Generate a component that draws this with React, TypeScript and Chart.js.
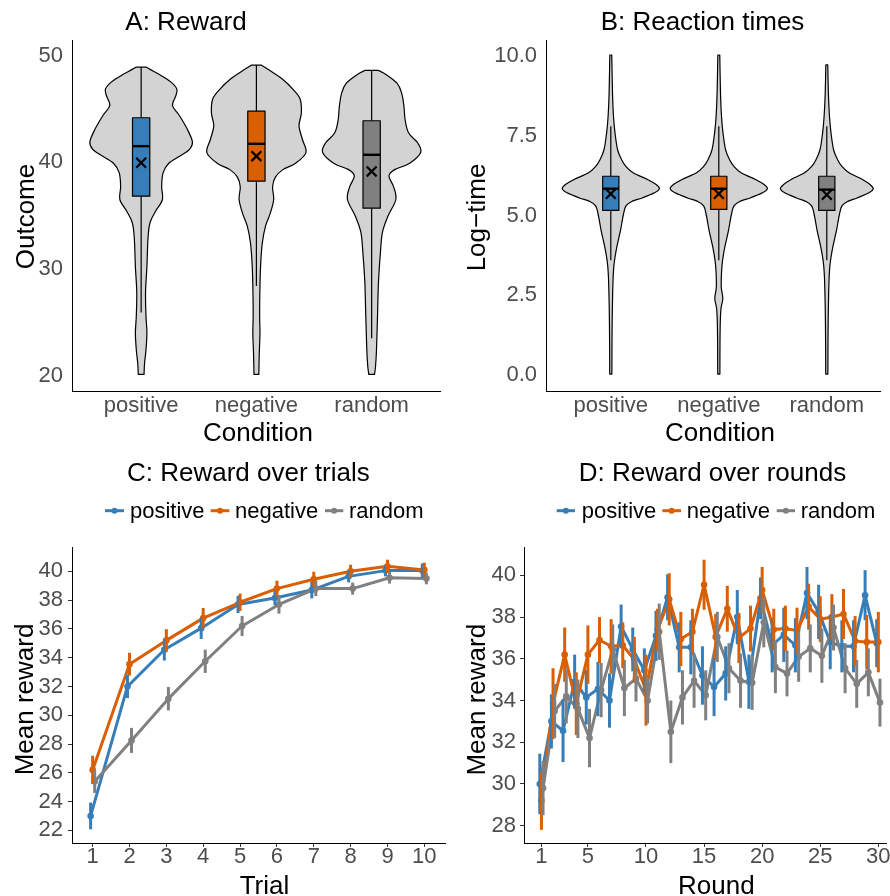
import React, { useEffect, useRef } from 'react';
import { Chart, registerables } from 'chart.js';
Chart.register(...registerables);

const FONT = '"Liberation Sans", Arial, Helvetica, sans-serif';
const BLUE = '#377EB8';
const ORANGE = '#D95F02';
const GREY = '#808080';
const VIOLIN_FILL = '#D3D3D3';
const TICK_COLOR = '#4D4D4D';

// ---------- Panel A: Reward (violins: [value, half-width]) ----------
const conditions = ['positive', 'negative', 'random'];
const rewardTicks = [20, 30, 40, 50];
const rewardViolinPositive: [number, number][] = [
  [20.1, 0.025], [21.2, 0.03], [22.4, 0.042], [24.0, 0.05], [25.6, 0.042], [27.8, 0.038],
  [30.2, 0.05], [32.8, 0.059], [34.3, 0.076], [35.4, 0.125], [36.5, 0.185], [37.7, 0.178],
  [39.0, 0.19], [39.9, 0.24], [40.6, 0.34], [41.2, 0.42], [41.9, 0.445], [43.1, 0.40],
  [44.4, 0.33], [45.3, 0.272], [46.2, 0.30], [46.85, 0.31], [47.5, 0.26], [48.1, 0.175],
  [48.5, 0.11], [48.9, 0.045],
];
const rewardViolinNegative: [number, number][] = [
  [20.1, 0.021], [22.1, 0.025], [24.0, 0.031], [25.6, 0.028], [27.8, 0.03], [30.2, 0.036],
  [32.4, 0.051], [34.0, 0.079], [35.2, 0.12], [36.5, 0.15], [37.7, 0.14], [38.6, 0.165],
  [39.3, 0.23], [39.9, 0.34], [40.9, 0.43], [42.1, 0.40], [43.4, 0.37], [44.6, 0.39],
  [45.9, 0.38], [46.8, 0.32], [47.75, 0.23], [48.7, 0.10], [49.1, 0.042],
];
const rewardViolinRandom: [number, number][] = [
  [20.1, 0.025], [20.9, 0.034], [22.4, 0.042], [25.6, 0.051], [28.7, 0.059], [31.5, 0.076],
  [33.4, 0.093], [34.9, 0.14], [36.5, 0.21], [37.7, 0.19], [38.7, 0.15], [39.3, 0.2],
  [39.9, 0.33], [40.9, 0.425], [41.8, 0.40], [42.75, 0.32], [44.0, 0.29], [45.25, 0.28],
  [46.5, 0.26], [47.4, 0.22], [48.2, 0.127], [48.6, 0.059],
];
const rewardQ1 = [36.81, 38.22, 35.69];
const rewardMedian = [41.5, 41.72, 40.69];
const rewardQ3 = [44.16, 44.78, 43.88];
const rewardWhiskerLow = [25.9, 28.4, 23.5];
const rewardWhiskerHigh = [48.9, 49.1, 48.6];
const rewardMean = [39.94, 40.56, 39.13];

// ---------- Panel B: Reaction times ----------
const rtTicks = [0, 2.5, 5, 7.5, 10];
const rtViolinPositive: [number, number][] = [
  [0.03, 0.01], [1.0, 0.011], [2.0, 0.014], [3.0, 0.021], [3.5, 0.031], [4.0, 0.055],
  [4.5, 0.088], [5.0, 0.115], [5.3, 0.14], [5.45, 0.2], [5.55, 0.29], [5.71, 0.405],
  [5.84, 0.45], [5.97, 0.42], [6.13, 0.34], [6.33, 0.21], [6.54, 0.14], [6.75, 0.1],
  [7.06, 0.063], [7.58, 0.039], [8.1, 0.025], [8.8, 0.016], [10.03, 0.009],
];
const rtViolinNegative: [number, number][] = [
  [0.03, 0.01], [1.0, 0.011], [1.7, 0.014], [2.1, 0.021], [2.4, 0.037], [2.75, 0.023],
  [3.2, 0.025], [3.6, 0.035], [4.0, 0.055], [4.5, 0.088], [5.0, 0.115], [5.3, 0.14],
  [5.45, 0.2], [5.55, 0.29], [5.71, 0.405], [5.84, 0.45], [5.97, 0.42], [6.13, 0.34],
  [6.33, 0.21], [6.54, 0.14], [6.75, 0.1], [7.06, 0.063], [7.58, 0.039], [8.1, 0.025],
  [8.8, 0.016], [10.03, 0.009],
];
const rtViolinRandom: [number, number][] = [
  [0.03, 0.01], [1.0, 0.011], [2.0, 0.014], [3.0, 0.021], [3.5, 0.031], [4.0, 0.055],
  [4.5, 0.088], [5.0, 0.115], [5.3, 0.14], [5.45, 0.2], [5.55, 0.28], [5.71, 0.39],
  [5.84, 0.43], [5.97, 0.40], [6.13, 0.33], [6.33, 0.21], [6.54, 0.14], [6.75, 0.1],
  [7.06, 0.063], [7.58, 0.039], [8.1, 0.025], [8.8, 0.015], [9.72, 0.009],
];
const rtQ1 = [5.16, 5.19, 5.16];
const rtMedian = [5.84, 5.84, 5.81];
const rtQ3 = [6.23, 6.23, 6.23];
const rtWhiskerLow = [3.6, 3.6, 3.6];
const rtWhiskerHigh = [7.8, 7.8, 7.8];
const rtMean = [5.68, 5.68, 5.65];

// ---------- Panel C: Reward over trials ----------
const trials = [1, 2, 3, 4, 5, 6, 7, 8, 9, 10];
const trialYTicks = [22, 24, 26, 28, 30, 32, 34, 36, 38, 40];
const trialPositive = [23.0, 32.0, 34.55, 36.05, 37.7, 38.15, 38.7, 39.65, 40.05, 40.05];
const trialNegative = [26.2, 33.55, 35.2, 36.75, 37.85, 38.8, 39.45, 40.0, 40.35, 40.1];
const trialRandom = [25.4, 28.25, 31.15, 33.75, 36.2, 37.7, 38.8, 38.8, 39.55, 39.5];
const trialPositiveSE = [0.93, 0.81, 0.75, 0.75, 0.6, 0.5, 0.58, 0.42, 0.4, 0.5];
const trialNegativeSE = [0.98, 0.79, 0.78, 0.7, 0.6, 0.55, 0.52, 0.46, 0.46, 0.5];
const trialRandomSE = [0.8, 0.87, 0.81, 0.81, 0.7, 0.64, 0.52, 0.42, 0.4, 0.4];

// ---------- Panel D: Reward over rounds ----------
const rounds = Array.from({ length: 30 }, (_, i) => i + 1);
const roundXTicks = [1, 5, 10, 15, 20, 25, 30];
const roundYTicks = [28, 30, 32, 34, 36, 38, 40];
const roundPositive = [30.0, 33.0, 32.55, 34.9, 34.15, 34.55, 34.0, 37.55, 36.45, 35.45,
  37.1, 38.95, 36.55, 36.55, 35.2, 34.65, 35.3, 38.0, 34.9, 38.9,
  36.65, 37.15, 36.65, 39.15, 38.25, 36.8, 36.6, 36.6, 39.05, 36.75];
const roundNegative = [29.2, 33.85, 36.2, 33.85, 36.2, 36.9, 36.6, 36.65, 35.95, 34.5,
  37.4, 38.85, 36.95, 37.3, 39.55, 37.05, 38.4, 37.0, 37.45, 39.3,
  37.4, 37.45, 37.35, 38.5, 37.9, 38.0, 38.15, 36.85, 36.8, 36.8];
const roundRandom = [29.8, 33.5, 34.2, 33.6, 32.2, 34.5, 36.45, 34.6, 35.05, 34.0,
  37.3, 32.5, 34.15, 34.95, 34.25, 37.05, 35.55, 34.95, 34.85, 37.75,
  35.6, 35.3, 36.1, 36.5, 36.15, 37.5, 35.55, 34.8, 35.35, 33.9];
const roundPositiveSE = [1.45, 1.3, 1.5, 1.3, 1.3, 1.3, 1.3, 1.05, 1.05, 1.05,
  1.2, 1.1, 1.2, 1.3, 1.4, 1.4, 1.3, 1.3, 1.3, 1.0,
  1.3, 1.3, 1.3, 1.25, 1.3, 1.3, 1.25, 1.25, 1.2, 1.15];
const roundNegativeSE = [1.4, 1.7, 1.3, 1.5, 1.4, 1.1, 1.3, 1.1, 1.1, 1.7,
  1.0, 1.25, 1.3, 1.1, 1.2, 1.1, 1.1, 1.2, 1.1, 1.1,
  1.0, 1.1, 1.1, 1.1, 1.1, 1.1, 1.2, 1.2, 1.3, 1.45];
const roundRandomSE = [1.3, 1.3, 1.3, 1.4, 1.4, 1.3, 1.2, 1.35, 1.1, 1.1,
  1.35, 1.5, 1.3, 1.3, 1.2, 1.2, 1.2, 1.3, 1.3, 1.2,
  1.25, 1.1, 1.2, 1.15, 1.3, 1.1, 1.2, 1.15, 1.15, 1.15];

const conditionColors = [BLUE, ORANGE, GREY];

type TextItem = { text: string; x: number; y: number; size: number; rot?: boolean; align?: CanvasTextAlign; color?: string };
type LegendItem = { x1: number; x2: number; tx: number; color: string; text: string };

function decorPlugin(texts: TextItem[], legend: LegendItem[] = [], legendLineY = 0, legendTextY = 0) {
  return {
    id: 'decor',
    afterDraw(chart: any) {
      const ctx = chart.ctx as CanvasRenderingContext2D;
      for (const t of texts) {
        ctx.save();
        ctx.font = `${t.size}px ${FONT}`;
        ctx.fillStyle = t.color || '#000';
        ctx.textAlign = t.align || 'center';
        ctx.textBaseline = 'alphabetic';
        ctx.translate(t.x, t.y);
        if (t.rot) ctx.rotate(-Math.PI / 2);
        ctx.fillText(t.text, 0, 0);
        ctx.restore();
      }
      for (const l of legend) {
        ctx.save();
        ctx.strokeStyle = l.color;
        ctx.lineWidth = 3;
        ctx.beginPath();
        ctx.moveTo(l.x1, legendLineY);
        ctx.lineTo(l.x2, legendLineY);
        ctx.stroke();
        ctx.fillStyle = l.color;
        ctx.beginPath();
        ctx.arc((l.x1 + l.x2) / 2, legendLineY, 3, 0, Math.PI * 2);
        ctx.fill();
        ctx.font = `22px ${FONT}`;
        ctx.fillStyle = '#000';
        ctx.textAlign = 'left';
        ctx.textBaseline = 'alphabetic';
        ctx.fillText(l.text, l.tx, legendTextY);
        ctx.restore();
      }
    },
  };
}

function splineThrough(ctx: CanvasRenderingContext2D, pts: number[][], move: boolean) {
  if (move) ctx.moveTo(pts[0][0], pts[0][1]);
  else ctx.lineTo(pts[0][0], pts[0][1]);
  for (let i = 0; i < pts.length - 1; i++) {
    const p0 = pts[i - 1] || pts[i];
    const p1 = pts[i];
    const p2 = pts[i + 1];
    const p3 = pts[i + 2] || p2;
    const t = 1 / 6;
    ctx.bezierCurveTo(
      p1[0] + (p2[0] - p0[0]) * t, p1[1] + (p2[1] - p0[1]) * t,
      p2[0] - (p3[0] - p1[0]) * t, p2[1] - (p3[1] - p1[1]) * t,
      p2[0], p2[1]
    );
  }
}

type ViolinSpec = {
  violins: [number, number][][];
  q1: number[]; med: number[]; q3: number[]; lo: number[]; hi: number[];
};

function violinPlugin(spec: ViolinSpec) {
  return {
    id: 'violins',
    beforeDatasetsDraw(chart: any) {
      const ctx = chart.ctx as CanvasRenderingContext2D;
      const xs = chart.scales.x;
      const ys = chart.scales.y;
      const boxHalf = 0.075;
      spec.violins.forEach((v, i) => {
        const cx = i + 1;
        const right = v.map(([val, w]) => [xs.getPixelForValue(cx + w), ys.getPixelForValue(val)]);
        const left = v.map(([val, w]) => [xs.getPixelForValue(cx - w), ys.getPixelForValue(val)]).reverse();
        ctx.save();
        ctx.beginPath();
        splineThrough(ctx, right, true);
        splineThrough(ctx, left, false);
        ctx.closePath();
        ctx.fillStyle = VIOLIN_FILL;
        ctx.fill();
        ctx.strokeStyle = '#000';
        ctx.lineWidth = 1.2;
        ctx.lineJoin = 'round';
        ctx.stroke();
        // whiskers
        const px = xs.getPixelForValue(cx);
        ctx.beginPath();
        ctx.moveTo(px, ys.getPixelForValue(spec.q3[i]));
        ctx.lineTo(px, ys.getPixelForValue(spec.hi[i]));
        ctx.moveTo(px, ys.getPixelForValue(spec.q1[i]));
        ctx.lineTo(px, ys.getPixelForValue(spec.lo[i]));
        ctx.lineWidth = 1.2;
        ctx.stroke();
        // box
        const bx1 = xs.getPixelForValue(cx - boxHalf);
        const bx2 = xs.getPixelForValue(cx + boxHalf);
        const by1 = ys.getPixelForValue(spec.q3[i]);
        const by2 = ys.getPixelForValue(spec.q1[i]);
        ctx.fillStyle = conditionColors[i];
        ctx.fillRect(bx1, by1, bx2 - bx1, by2 - by1);
        ctx.strokeRect(bx1, by1, bx2 - bx1, by2 - by1);
        // median
        const my = ys.getPixelForValue(spec.med[i]);
        ctx.beginPath();
        ctx.moveTo(bx1, my);
        ctx.lineTo(bx2, my);
        ctx.lineWidth = 2.4;
        ctx.stroke();
        ctx.restore();
      });
    },
  };
}

function errorBarPlugin(seList: number[][]) {
  return {
    id: 'errorbars',
    afterDatasetsDraw(chart: any) {
      const ctx = chart.ctx as CanvasRenderingContext2D;
      const ys = chart.scales.y;
      const xs = chart.scales.x;
      chart.data.datasets.forEach((ds: any, k: number) => {
        ctx.save();
        ctx.strokeStyle = ds.borderColor;
        ctx.lineWidth = 3;
        ctx.lineCap = 'butt';
        ds.data.forEach((p: any, i: number) => {
          const se = seList[k][i];
          const px = xs.getPixelForValue(p.x);
          ctx.beginPath();
          ctx.moveTo(px, ys.getPixelForValue(p.y - se));
          ctx.lineTo(px, ys.getPixelForValue(p.y + se));
          ctx.stroke();
        });
        ctx.restore();
      });
    },
  };
}

type Area = { left: number; top: number; right: number; bottom: number };

function baseScales(W: number, H: number, area: Area, o: any) {
  const tickFont = { family: FONT, size: 22, lineHeight: 1 };
  const gridOpts = o.tickMarks
    ? { display: true, drawOnChartArea: false, drawTicks: true, tickLength: 4, color: '#333333', lineWidth: 1 }
    : { display: false, drawTicks: false, tickLength: 0 };
  return {
    x: {
      type: 'linear',
      position: 'bottom',
      min: o.xMin,
      max: o.xMax,
      afterFit: (s: any) => { s.height = H - area.bottom; },
      afterBuildTicks: (s: any) => { s.ticks = o.xTicks.map((v: number) => ({ value: v })); },
      grid: gridOpts,
      border: { display: true, color: '#000', width: 1 },
      ticks: {
        autoSkip: false, maxRotation: 0, minRotation: 0, padding: o.xPad,
        color: TICK_COLOR, font: tickFont, callback: o.xFmt,
      },
    },
    y: {
      type: 'linear',
      position: 'left',
      min: o.yMin,
      max: o.yMax,
      afterFit: (s: any) => { s.width = area.left; },
      afterBuildTicks: (s: any) => { s.ticks = o.yTicks.map((v: number) => ({ value: v })); },
      grid: gridOpts,
      border: { display: true, color: '#000', width: 1 },
      ticks: {
        autoSkip: false, padding: o.yPad,
        color: TICK_COLOR, font: tickFont, callback: o.yFmt,
      },
    },
  };
}

function violinConfig(W: number, H: number, area: Area, o: any, spec: ViolinSpec, means: number[], texts: TextItem[]): any {
  return {
    type: 'scatter',
    data: {
      datasets: [{
        data: means.map((m, i) => ({ x: i + 1, y: m })),
        pointStyle: 'crossRot',
        pointRadius: 7,
        borderWidth: 2.2,
        borderColor: '#000',
        backgroundColor: '#000',
        showLine: false,
      }],
    },
    options: {
      responsive: false,
      animation: false,
      devicePixelRatio: 1,
      events: [],
      layout: { padding: { left: 0, top: area.top, right: W - area.right, bottom: 0 } },
      plugins: { legend: { display: false }, tooltip: { enabled: false }, title: { display: false } },
      scales: baseScales(W, H, area, o),
    },
    plugins: [violinPlugin(spec), decorPlugin(texts)],
  };
}

function lineConfig(W: number, H: number, area: Area, o: any, xs: number[], series: { label: string; color: string; values: number[]; se: number[] }[], dodge: number[], texts: TextItem[], legend: LegendItem[]): any {
  return {
    type: 'line',
    data: {
      datasets: series.map((s, k) => ({
        label: s.label,
        data: xs.map((x, i) => ({ x: x + dodge[k], y: s.values[i] })),
        borderColor: s.color,
        backgroundColor: s.color,
        borderWidth: 3,
        borderJoinStyle: 'round',
        pointRadius: 3.3,
        pointBorderWidth: 0,
        pointBackgroundColor: s.color,
        tension: 0,
        fill: false,
        order: 3 - k,
      })),
    },
    options: {
      responsive: false,
      animation: false,
      devicePixelRatio: 1,
      events: [],
      layout: { padding: { left: 0, top: area.top, right: W - area.right, bottom: 0 } },
      plugins: { legend: { display: false }, tooltip: { enabled: false }, title: { display: false } },
      scales: baseScales(W, H, area, o),
    },
    plugins: [errorBarPlugin(series.map((s) => s.se)), decorPlugin(texts, legend, 62.7, 70.3)],
  };
}

export default function App() {
  const refA = useRef<HTMLCanvasElement>(null);
  const refB = useRef<HTMLCanvasElement>(null);
  const refC = useRef<HTMLCanvasElement>(null);
  const refD = useRef<HTMLCanvasElement>(null);

  useEffect(() => {
    const charts: Chart[] = [];
    const catFmt = (v: any) => conditions[Math.round(Number(v)) - 1] ?? '';

    charts.push(new Chart(refA.current!, violinConfig(450, 448,
      { left: 72, top: 40, right: 450, bottom: 391 },
      { xMin: 0.4, xMax: 3.6, xTicks: [1, 2, 3], xFmt: catFmt, xPad: 4,
        yMin: 18.55, yMax: 51.45, yTicks: rewardTicks, yFmt: (v: any) => String(v), yPad: 9, tickMarks: false },
      { violins: [rewardViolinPositive, rewardViolinNegative, rewardViolinRandom],
        q1: rewardQ1, med: rewardMedian, q3: rewardQ3, lo: rewardWhiskerLow, hi: rewardWhiskerHigh },
      rewardMean,
      [
        { text: 'A: Reward', x: 186, y: 30, size: 26 },
        { text: 'Condition', x: 258, y: 441, size: 26 },
        { text: 'Outcome', x: 33.5, y: 216.5, size: 26, rot: true },
      ])));

    charts.push(new Chart(refB.current!, violinConfig(445, 448,
      { left: 101, top: 40, right: 445, bottom: 391 },
      { xMin: 0.4, xMax: 3.5, xTicks: [1, 2, 3], xFmt: catFmt, xPad: 4,
        yMin: -0.5, yMax: 10.5, yTicks: rtTicks, yFmt: (v: any) => Number(v).toFixed(1), yPad: 9, tickMarks: false },
      { violins: [rtViolinPositive, rtViolinNegative, rtViolinRandom],
        q1: rtQ1, med: rtMedian, q3: rtQ3, lo: rtWhiskerLow, hi: rtWhiskerHigh },
      rtMean,
      [
        { text: 'B: Reaction times', x: 257.5, y: 30, size: 26 },
        { text: 'Condition', x: 275, y: 441, size: 26 },
        { text: 'Log\u2212time', x: 39.5, y: 217.5, size: 26, rot: true },
      ])));

    charts.push(new Chart(refC.current!, lineConfig(449, 448,
      { left: 72, top: 99.3, right: 449, bottom: 395 },
      { xMin: 0.44, xMax: 10.56, xTicks: trials, xFmt: (v: any) => String(v), xPad: -1,
        yMin: 21.12, yMax: 41.67, yTicks: trialYTicks, yFmt: (v: any) => String(v), yPad: 5, tickMarks: true },
      trials,
      [
        { label: 'positive', color: BLUE, values: trialPositive, se: trialPositiveSE },
        { label: 'negative', color: ORANGE, values: trialNegative, se: trialNegativeSE },
        { label: 'random', color: GREY, values: trialRandom, se: trialRandomSE },
      ],
      [-0.055, 0, 0.055],
      [
        { text: 'C: Reward over trials', x: 248.3, y: 33.3, size: 26 },
        { text: 'Trial', x: 264.5, y: 446, size: 26 },
        { text: 'Mean reward', x: 32.5, y: 251.5, size: 26, rot: true },
      ],
      [
        { x1: 105, x2: 124, tx: 130, color: BLUE, text: 'positive' },
        { x1: 210.7, x2: 229.3, tx: 235, color: ORANGE, text: 'negative' },
        { x1: 325, x2: 343.3, tx: 349, color: GREY, text: 'random' },
      ])));

    charts.push(new Chart(refD.current!, lineConfig(445, 448,
      { left: 79, top: 99, right: 445, bottom: 395 },
      { xMin: -0.5, xMax: 30.66, xTicks: roundXTicks, xFmt: (v: any) => String(v), xPad: -1,
        yMin: 27.17, yMax: 41.36, yTicks: roundYTicks, yFmt: (v: any) => String(v), yPad: 4, tickMarks: true },
      rounds,
      [
        { label: 'positive', color: BLUE, values: roundPositive, se: roundPositiveSE },
        { label: 'negative', color: ORANGE, values: roundNegative, se: roundNegativeSE },
        { label: 'random', color: GREY, values: roundRandom, se: roundRandomSE },
      ],
      [-0.14, 0, 0.14],
      [
        { text: 'D: Reward over rounds', x: 267.5, y: 33.3, size: 26 },
        { text: 'Round', x: 271.3, y: 446, size: 26 },
        { text: 'Mean reward', x: 39.7, y: 251.7, size: 26, rot: true },
      ],
      [
        { x1: 111.7, x2: 130, tx: 136.7, color: BLUE, text: 'positive' },
        { x1: 217.3, x2: 236, tx: 241.7, color: ORANGE, text: 'negative' },
        { x1: 331.7, x2: 350, tx: 355.7, color: GREY, text: 'random' },
      ])));

    return () => charts.forEach((c) => c.destroy());
  }, []);

  const cv = (left: number, top: number, w: number, h: number): React.CSSProperties => ({
    position: 'absolute', left, top, width: w, height: h,
  });

  return (
    <div style={{ position: 'absolute', left: 0, top: 0, width: 890, height: 896, overflow: 'hidden', background: '#ffffff' }}>
      <canvas ref={refA} width={450} height={448} style={cv(0, 0, 450, 448)} />
      <canvas ref={refB} width={445} height={448} style={cv(445, 0, 445, 448)} />
      <canvas ref={refC} width={449} height={448} style={cv(0, 448, 449, 448)} />
      <canvas ref={refD} width={445} height={448} style={cv(445, 448, 445, 448)} />
    </div>
  );
}
